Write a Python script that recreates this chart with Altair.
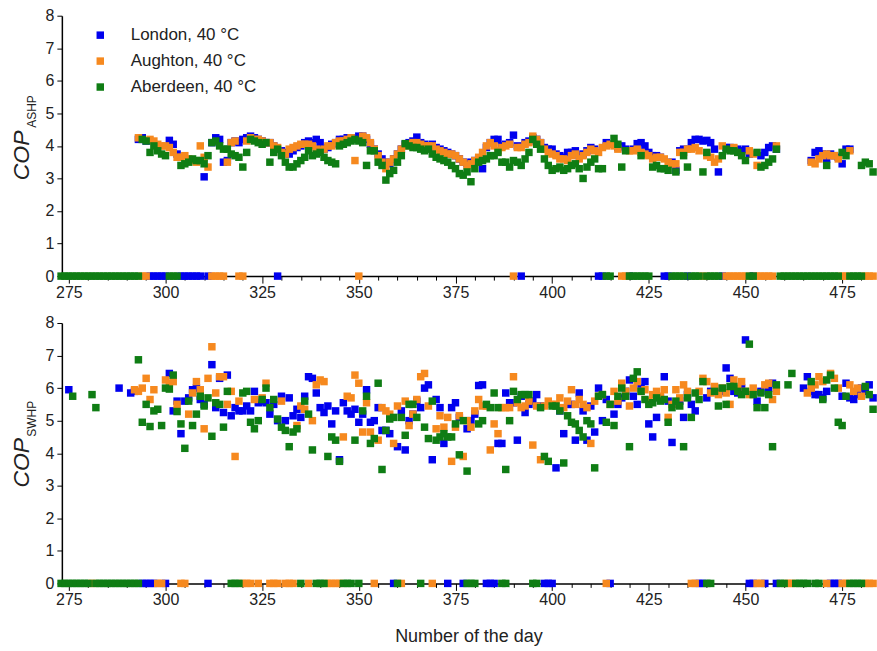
import altair as alt
import pandas as pd

CITIES = ["London, 40 °C", "Aughton, 40 °C", "Aberdeen, 40 °C"]
COLORS = ["#0000ee", "#f6891f", "#0f7d14"]
X_DOMAIN = [273.2, 483.5]
X_TICKS = [275, 280, 285, 290, 295, 300, 305, 310, 315, 320, 325, 330, 335, 340, 345,
           350, 355, 360, 365, 370, 375, 380, 385, 390, 395, 400, 405, 410, 415, 420,
           425, 430, 435, 440, 445, 450, 455, 460, 465, 470, 475, 480]
Y_TICKS = [0, 1, 2, 3, 4, 5, 6, 7, 8]
FONT = "Liberation Sans"

# ---------------- COP ASHP (top panel): (day, COP) ----------------
ashp_london = [
    (293, 4.2), (294, 4.25), (295, 4.15), (301, 4.17), (302, 4.05), (303, 3.75), (310, 3.05),
    (312, 4.1), (313, 4.25), (314, 4.2), (315, 3.5), (316, 3.55), (317, 4.1), (318, 4.15),
    (319, 4.1), (320, 4.2), (321, 4.25), (322, 4.3), (323, 4.25), (324, 4.2), (325, 4.15),
    (326, 4.1), (327, 4.1), (328, 4.0), (330, 3.85), (331, 3.8), (332, 3.75), (333, 3.85),
    (334, 3.95), (335, 4.0), (336, 4.1), (337, 4.15), (338, 4.1), (339, 4.2), (340, 4.1),
    (341, 3.9), (342, 3.95), (343, 4.05), (344, 4.1), (345, 4.2), (346, 4.2), (347, 4.25),
    (348, 4.25), (349, 4.2), (350, 4.3), (351, 4.3), (352, 4.2), (353, 4.05), (354, 3.9),
    (355, 3.75), (356, 3.6), (357, 3.5), (358, 3.45), (359, 3.6), (360, 3.75), (361, 3.9),
    (362, 4.05), (363, 4.1), (364, 4.15), (365, 4.27), (366, 4.1), (367, 4.05), (368, 4.0),
    (369, 4.05), (370, 3.95), (371, 3.9), (372, 3.85), (373, 3.8), (374, 3.75), (375, 3.7),
    (376, 3.6), (377, 3.5), (378, 3.45), (379, 3.5), (380, 3.55), (381, 3.6), (382, 3.3),
    (383, 3.95), (384, 4.1), (385, 4.2), (386, 4.2), (387, 4.0), (388, 4.05), (389, 4.1),
    (390, 4.33), (391, 4.0), (393, 4.1), (394, 4.15), (395, 4.25), (396, 4.2), (397, 4.1),
    (398, 3.95), (399, 3.9), (400, 3.9), (401, 3.75), (402, 3.7), (403, 3.65), (404, 3.8),
    (405, 3.8), (406, 3.85), (407, 3.7), (408, 3.75), (409, 3.85), (410, 3.95), (411, 3.9),
    (414, 4.1), (415, 4.05), (416, 4.05), (417, 3.95), (418, 4.0), (419, 3.9), (421, 3.9),
    (422, 4.07), (423, 4.1), (424, 4.0), (425, 3.8), (426, 3.7), (427, 3.7), (428, 3.65),
    (431, 3.5), (432, 3.25), (433, 3.85), (434, 3.9), (436, 4.1), (437, 4.2), (438, 4.2),
    (439, 4.15), (440, 4.17), (441, 4.1), (442, 3.9), (443, 3.2), (445, 3.95), (446, 3.95),
    (448, 3.9), (449, 3.85), (450, 3.9), (451, 3.75), (454, 3.7), (455, 3.8), (456, 3.95),
    (457, 4.0), (458, 3.9), (467, 3.55), (468, 3.8), (469, 3.85), (470, 3.75), (471, 3.6),
    (472, 3.75), (473, 3.7), (474, 3.65), (475, 3.45), (476, 3.9), (477, 3.9),
]
ashp_aughton = [
    (293, 4.25), (296, 4.2), (297, 4.15), (298, 4.05), (299, 4.0), (300, 4.0), (301, 3.95),
    (302, 3.8), (303, 3.65), (304, 3.65), (305, 3.7), (306, 3.6), (307, 3.55), (308, 3.5),
    (309, 4.0), (310, 3.65), (311, 3.35), (316, 3.5), (317, 4.1), (318, 4.15), (321, 4.15),
    (322, 4.25), (323, 4.2), (324, 4.2), (325, 4.15), (326, 4.1), (327, 4.1), (328, 4.0),
    (329, 3.95), (330, 3.8), (331, 3.75), (332, 3.9), (333, 3.95), (334, 4.0), (335, 4.05),
    (336, 4.05), (337, 4.05), (338, 4.0), (339, 3.9), (340, 3.85), (341, 3.9), (342, 4.0),
    (343, 4.0), (344, 4.1), (345, 4.15), (346, 4.15), (347, 4.2), (348, 4.25), (349, 3.55),
    (351, 4.3), (352, 4.25), (353, 4.1), (354, 3.9), (355, 3.7), (356, 3.5), (357, 3.3),
    (358, 3.5), (359, 3.6), (360, 3.75), (361, 3.9), (362, 4.0), (363, 4.05), (364, 4.1),
    (365, 4.1), (366, 4.05), (367, 4.0), (368, 4.0), (369, 4.0), (370, 3.9), (371, 3.85),
    (372, 3.8), (373, 3.75), (374, 3.75), (375, 3.7), (376, 3.6), (377, 3.5), (378, 3.4),
    (379, 3.45), (380, 3.55), (381, 3.65), (382, 3.8), (383, 4.0), (384, 4.1), (385, 4.0),
    (386, 3.85), (387, 3.95), (388, 4.0), (389, 4.05), (391, 3.95), (392, 3.95), (393, 4.05),
    (394, 4.1), (395, 4.3), (396, 4.2), (397, 4.1), (398, 3.9), (399, 3.8), (400, 3.75),
    (401, 3.7), (402, 3.6), (403, 3.6), (404, 3.55), (405, 3.7), (406, 3.75), (407, 3.6),
    (408, 3.7), (409, 3.8), (410, 3.9), (411, 3.85), (412, 3.8), (413, 3.95), (414, 4.0),
    (415, 4.05), (416, 4.0), (417, 3.9), (420, 3.85), (421, 3.85), (422, 3.9), (423, 3.8),
    (424, 3.75), (425, 3.7), (426, 3.6), (427, 3.65), (428, 3.65), (429, 3.6), (430, 3.5),
    (431, 3.45), (432, 3.45), (433, 3.8), (434, 3.8), (435, 3.9), (436, 3.9), (437, 3.95),
    (438, 3.85), (440, 3.7), (441, 3.65), (442, 3.5), (443, 3.6), (444, 4.0), (447, 3.95),
    (451, 3.85), (452, 3.75), (453, 3.4), (458, 4.0), (467, 3.5), (468, 3.45), (469, 3.6),
    (470, 3.7), (471, 3.75), (472, 3.7), (473, 3.7), (474, 3.6), (477, 3.85),
]
ashp_aberdeen = [
    (294, 4.2), (295, 4.15), (296, 3.8), (297, 4.0), (298, 3.85), (299, 3.75), (300, 3.7),
    (304, 3.4), (305, 3.45), (306, 3.5), (307, 3.6), (308, 3.55), (309, 3.55), (310, 3.45),
    (311, 3.7), (312, 4.1), (313, 4.15), (314, 4.0), (315, 3.9), (316, 3.9), (317, 3.75),
    (318, 3.7), (319, 3.65), (320, 3.35), (321, 3.8), (322, 4.2), (323, 4.15), (324, 4.1),
    (325, 4.05), (326, 4.1), (327, 3.5), (328, 3.8), (329, 3.9), (330, 3.7), (331, 3.5),
    (332, 3.35), (333, 3.35), (334, 3.45), (335, 3.55), (336, 3.65), (337, 3.85), (338, 3.7),
    (339, 3.75), (340, 3.8), (341, 3.65), (342, 3.55), (343, 3.5), (344, 3.45), (345, 4.0),
    (346, 4.05), (347, 4.1), (348, 4.15), (349, 4.2), (350, 4.15), (351, 4.1), (352, 3.4),
    (353, 3.85), (354, 3.85), (355, 3.5), (356, 3.4), (357, 2.95), (358, 3.15), (359, 3.25),
    (360, 3.5), (361, 3.7), (362, 4.07), (363, 4.0), (364, 3.95), (365, 3.95), (366, 3.9),
    (367, 3.85), (368, 3.9), (369, 3.75), (370, 3.65), (371, 3.6), (372, 3.55), (373, 3.5),
    (374, 3.4), (375, 3.3), (376, 3.15), (377, 3.1), (378, 3.2), (379, 2.9), (380, 3.3),
    (381, 3.5), (382, 3.55), (383, 3.6), (384, 3.7), (385, 3.7), (386, 3.8), (387, 3.5),
    (388, 3.5), (389, 3.35), (390, 3.55), (391, 3.5), (392, 3.4), (393, 3.6), (394, 3.8),
    (395, 4.2), (396, 4.05), (397, 3.9), (398, 3.6), (399, 3.4), (400, 3.25), (401, 3.3),
    (402, 3.35), (403, 3.25), (404, 3.3), (405, 3.4), (406, 3.45), (407, 3.3), (408, 3.0),
    (409, 3.35), (410, 3.5), (411, 3.6), (412, 3.3), (413, 3.3), (416, 4.23), (417, 4.05),
    (418, 3.35), (419, 3.85), (423, 3.7), (426, 3.35), (427, 3.4), (428, 3.3), (429, 3.3),
    (430, 3.25), (432, 3.2), (434, 3.7), (435, 3.35), (439, 3.2), (440, 3.8), (444, 3.7),
    (445, 3.9), (446, 3.85), (447, 3.85), (448, 3.8), (449, 3.7), (450, 3.55), (453, 3.8),
    (454, 3.35), (455, 3.4), (456, 3.5), (457, 3.6), (458, 3.9), (471, 3.4), (475, 3.8),
    (476, 3.7), (480, 3.4), (481, 3.5), (482, 3.45), (483, 3.2),
]
# days with COP = 0 (top panel)
ashp_zero_london = [296, 297, 298, 299, 300, 304, 305, 306, 307, 308, 309, 311, 329, 392,
                    412, 413, 420, 429, 430, 435, 444, 452]
ashp_zero_aughton = [294, 295, 312, 313, 314, 315, 319, 320, 350, 390, 418, 419, 439, 445,
                     446, 447, 448, 449, 450, 453, 454, 455, 456, 457, 475, 476, 481, 482, 483]
ashp_zero_aberdeen = [273, 274, 275, 276, 277, 278, 279, 280, 281, 282, 283, 284, 285, 286,
                      287, 288, 289, 290, 291, 292, 293, 301, 302, 303, 414, 415, 420, 421,
                      422, 423, 424, 425, 431, 432, 433, 434, 436, 437, 438, 440, 441, 442,
                      443, 451, 452, 459, 460, 461, 462, 463, 464, 465, 466, 467, 468, 469,
                      470, 471, 472, 473, 474, 477, 478, 479, 480]

# ---------------- COP SWHP (bottom panel): (day, COP) ----------------
swhp_london = [
    (275, 5.95), (288, 6.0), (291, 5.85), (292, 5.9), (301, 6.45), (302, 5.3), (303, 5.6),
    (304, 4.6), (305, 5.6), (306, 5.7), (307, 5.95), (308, 6.0), (309, 5.65), (310, 5.5),
    (312, 6.72), (313, 5.4), (314, 6.3), (315, 5.25), (316, 6.4), (317, 5.15), (318, 5.4),
    (319, 5.3), (320, 5.3), (321, 5.45), (322, 5.3), (323, 5.9), (324, 5.55), (325, 5.6),
    (326, 5.55), (327, 5.2), (328, 5.5), (329, 5.0), (330, 5.75), (331, 5.0), (332, 5.7),
    (333, 5.15), (334, 5.35), (335, 5.1), (336, 5.75), (337, 6.35), (338, 6.3), (339, 5.85),
    (340, 5.4), (341, 5.25), (342, 5.45), (343, 4.9), (344, 5.3), (345, 3.8), (346, 5.55),
    (347, 5.3), (348, 5.2), (349, 5.35), (350, 4.95), (351, 5.2), (352, 5.95), (353, 4.95),
    (354, 5.0), (355, 5.4), (356, 4.7), (357, 4.7), (358, 4.6), (360, 4.2), (361, 5.3),
    (362, 4.1), (363, 5.0), (364, 5.2), (365, 5.6), (366, 5.4), (367, 6.0), (368, 6.1),
    (369, 3.8), (370, 5.65), (371, 5.4), (372, 4.3), (374, 5.4), (375, 5.55), (376, 5.1),
    (378, 4.75), (379, 5.0), (380, 5.2), (381, 6.08), (382, 6.1), (386, 4.3), (387, 4.3),
    (388, 5.85), (389, 5.55), (390, 5.55), (391, 4.4), (392, 5.75), (393, 5.25), (394, 5.5),
    (395, 5.6), (396, 5.8), (397, 5.45), (401, 3.55), (402, 5.3), (403, 4.6), (404, 5.5),
    (405, 5.5), (406, 4.4), (407, 5.85), (408, 5.3), (409, 4.4), (410, 5.45), (411, 4.65),
    (412, 6.0), (413, 5.0), (414, 5.65), (416, 5.2), (417, 5.5), (418, 5.7), (419, 5.9),
    (420, 6.25), (421, 5.75), (422, 5.5), (423, 6.0), (424, 6.2), (425, 4.9), (426, 4.5),
    (427, 5.1), (428, 5.7), (429, 6.35), (430, 5.6), (431, 4.33), (432, 5.5), (433, 5.6),
    (434, 5.1), (435, 5.8), (436, 5.5), (437, 5.3), (440, 5.7), (441, 5.9), (442, 6.0),
    (443, 5.85), (444, 5.9), (445, 6.62), (446, 6.3), (447, 5.9), (448, 5.85), (449, 6.0),
    (450, 7.48), (453, 5.6), (454, 5.9), (456, 6.0), (457, 6.15), (465, 6.0), (466, 6.35),
    (467, 5.9), (468, 5.8), (469, 5.8), (470, 5.7), (471, 5.9), (475, 5.75), (476, 6.15),
    (477, 5.7), (478, 5.65), (479, 5.8), (480, 6.0), (481, 5.9), (482, 6.1), (483, 5.7),
]
swhp_aughton = [
    (292, 5.95), (293, 5.9), (294, 6.0), (295, 6.3), (296, 5.65), (297, 5.95), (300, 6.25),
    (301, 6.15), (302, 6.2), (303, 5.5), (306, 5.2), (307, 5.85), (308, 6.2), (309, 5.95),
    (310, 4.75), (311, 6.3), (312, 7.27), (313, 5.85), (314, 6.35), (315, 6.35), (316, 5.5),
    (317, 5.9), (318, 3.9), (319, 5.6), (323, 5.65), (325, 5.7), (326, 6.15), (330, 5.6),
    (334, 4.85), (335, 5.45), (336, 5.35), (338, 5.0), (339, 6.1), (340, 6.25), (341, 6.2),
    (346, 4.5), (347, 5.75), (348, 5.7), (349, 6.4), (350, 6.15), (351, 4.65), (352, 5.55),
    (353, 4.65), (355, 4.4), (356, 5.4), (357, 5.3), (358, 5.2), (359, 4.3), (360, 5.45),
    (362, 5.6), (363, 4.85), (364, 5.2), (365, 5.65), (366, 6.35), (367, 6.45), (368, 5.45),
    (370, 4.75), (371, 5.15), (372, 4.8), (373, 5.1), (374, 3.75), (375, 4.8), (376, 5.15),
    (377, 3.9), (378, 5.0), (379, 4.8), (380, 5.3), (381, 5.65), (382, 5.45), (383, 5.45),
    (384, 4.1), (385, 4.9), (386, 4.6), (387, 5.4), (388, 5.4), (389, 5.4), (390, 6.35),
    (391, 5.55), (392, 5.4), (393, 5.45), (394, 5.6), (395, 4.25), (396, 5.45), (397, 3.8),
    (398, 5.45), (399, 5.6), (400, 5.5), (401, 5.5), (402, 5.7), (403, 5.4), (404, 5.6),
    (405, 5.95), (406, 5.5), (407, 5.65), (408, 5.5), (409, 5.4), (410, 4.3), (411, 5.6),
    (412, 5.75), (413, 5.8), (415, 5.5), (416, 5.9), (417, 5.6), (418, 6.15), (419, 5.9),
    (420, 5.45), (421, 6.0), (422, 6.2), (423, 5.9), (424, 5.95), (425, 5.6), (426, 5.8),
    (427, 5.9), (428, 5.75), (429, 5.95), (430, 5.1), (431, 5.5), (432, 5.95), (433, 5.7),
    (434, 6.1), (435, 5.9), (438, 5.9), (439, 6.3), (440, 6.2), (441, 5.85), (442, 6.05),
    (443, 5.8), (444, 6.0), (445, 5.85), (446, 5.5), (447, 6.25), (448, 6.0), (449, 6.2),
    (450, 5.9), (451, 5.8), (452, 6.0), (455, 6.1), (456, 6.15), (457, 5.65), (458, 5.9),
    (466, 5.85), (467, 6.0), (468, 6.1), (469, 6.35), (470, 6.2), (472, 6.45), (473, 6.3),
    (474, 6.0), (477, 6.1), (478, 5.9), (479, 6.0), (480, 5.75),
]
swhp_aberdeen = [
    (276, 5.75), (281, 5.8), (282, 5.4), (293, 6.87), (294, 4.95), (295, 5.5), (296, 4.82),
    (297, 5.3), (298, 5.35), (299, 4.85), (300, 6.0), (301, 5.97), (302, 6.4), (303, 5.28),
    (304, 4.9), (305, 4.15), (306, 5.6), (307, 4.85), (308, 5.2), (309, 5.75), (310, 5.45),
    (311, 5.7), (312, 4.52), (313, 5.55), (314, 5.5), (315, 4.8), (316, 5.9), (320, 5.85),
    (321, 5.9), (322, 4.95), (323, 4.75), (324, 5.0), (325, 5.65), (326, 6.0), (327, 5.4),
    (328, 5.65), (329, 5.05), (330, 4.8), (331, 4.7), (332, 4.2), (333, 4.65), (334, 4.75),
    (336, 5.6), (337, 5.2), (338, 4.1), (342, 3.9), (343, 4.5), (344, 4.4), (345, 3.75),
    (349, 4.4), (351, 5.3), (352, 5.75), (353, 4.3), (354, 4.45), (355, 6.15), (356, 3.5),
    (357, 4.7), (358, 5.05), (359, 5.1), (361, 5.1), (362, 4.55), (363, 5.5), (364, 5.5),
    (365, 5.1), (367, 4.8), (368, 4.45), (369, 5.6), (370, 4.4), (371, 4.5), (372, 4.6),
    (373, 4.5), (374, 4.5), (375, 4.9), (376, 3.95), (377, 5.0), (378, 3.45), (381, 4.9),
    (382, 5.0), (383, 5.5), (384, 5.4), (385, 5.85), (386, 5.4), (388, 3.5), (389, 5.0),
    (390, 5.9), (391, 5.65), (392, 5.8), (393, 5.8), (394, 5.8), (397, 5.4), (398, 3.9),
    (399, 3.75), (400, 5.45), (401, 5.45), (402, 5.3), (403, 3.7), (404, 5.15), (405, 4.95),
    (406, 4.9), (407, 4.7), (408, 4.5), (409, 5.0), (410, 4.9), (411, 3.55), (412, 5.75),
    (413, 5.8), (414, 4.95), (415, 5.5), (416, 4.85), (417, 5.75), (418, 6.0), (419, 5.75),
    (420, 4.2), (421, 6.3), (422, 6.5), (423, 5.9), (424, 5.65), (425, 5.5), (426, 5.55),
    (427, 5.7), (428, 5.6), (429, 5.65), (430, 4.95), (431, 5.4), (432, 5.6), (433, 5.45),
    (434, 4.2), (435, 5.7), (436, 5.1), (437, 5.85), (438, 5.65), (439, 6.2), (442, 5.9),
    (443, 5.45), (444, 6.0), (445, 5.5), (446, 6.05), (447, 6.05), (448, 5.9), (449, 5.8),
    (450, 5.9), (451, 7.35), (452, 5.8), (453, 5.4), (454, 5.85), (455, 5.4), (456, 5.8),
    (457, 4.2), (458, 6.1), (461, 6.1), (462, 6.45), (467, 6.2), (470, 5.65), (471, 6.25),
    (472, 6.4), (473, 6.0), (474, 4.95), (475, 4.85), (476, 5.75), (481, 6.05), (482, 5.8),
    (483, 5.35),
]
# days with COP = 0 (bottom panel)
swhp_zero_london = [294, 295, 296, 297, 300, 311, 359, 373, 377, 383, 384, 385, 398, 399,
                    400, 415, 438, 439, 451, 452, 455, 458, 472, 473, 474]
swhp_zero_aughton = [281, 298, 299, 304, 305, 320, 321, 322, 324, 327, 328, 329, 331, 332,
                     333, 337, 342, 343, 344, 345, 354, 361, 369, 414, 436, 437, 453, 454,
                     461, 462, 471, 475, 476, 481, 482, 483]
swhp_zero_aberdeen = [273, 274, 275, 276, 277, 278, 279, 280, 282, 283, 284, 285, 286, 287,
                      288, 289, 290, 291, 292, 293, 317, 318, 319, 335, 339, 340, 341, 346,
                      347, 348, 350, 360, 366, 378, 379, 380, 387, 388, 395, 396, 440, 441,
                      459, 460, 463, 464, 465, 466, 468, 469, 477, 478, 479, 480]


def build_frame(points, zeros):
    rows = []
    for i, city in enumerate(CITIES):
        for d in zeros[i]:
            rows.append({"city": city, "k": i, "day": d, "cop": 0.0})
        for d, v in points[i]:
            rows.append({"city": city, "k": i, "day": d, "cop": v})
    df = pd.DataFrame(rows)
    return df.sort_values("k", kind="stable").reset_index(drop=True)


top_df = build_frame([ashp_london, ashp_aughton, ashp_aberdeen],
                     [ashp_zero_london, ashp_zero_aughton, ashp_zero_aberdeen])
bot_df = build_frame([swhp_london, swhp_aughton, swhp_aberdeen],
                     [swhp_zero_london, swhp_zero_aughton, swhp_zero_aberdeen])

W, H = 815, 261

legend = alt.Legend(
    title=None, orient="none", legendX=30, legendY=11, symbolType="square",
    symbolSize=56, symbolStrokeWidth=0, labelFontSize=17, labelFont=FONT,
    labelColor="#222222", rowPadding=8, labelOffset=22, padding=0,
)


def panel(df, sub, xtitle, anchor):
    x_axis = alt.Axis(
        values=X_TICKS, format="d", title=xtitle,
        labelExpr="datum.value % 25 === 0 ? datum.label : ''",
        tickSize={"condition": {"test": "datum.value % 25 === 0", "value": 7}, "value": 4},
        labelOverlap=False, labelFlush=False, labelPadding=1,
        titleFontSize=18, titleFont=FONT, titleFontWeight="normal", titleColor="#222222",
        titlePadding=20,
    )
    y_axis = alt.Axis(values=Y_TICKS, title=None, tickSize=5, labelPadding=3)
    pts = alt.Chart(df).mark_square(size=56, opacity=1, clip=False).encode(
        x=alt.X("day:Q", scale=alt.Scale(domain=X_DOMAIN, nice=False, zero=False), axis=x_axis),
        y=alt.Y("cop:Q", scale=alt.Scale(domain=[0, 8], nice=False), axis=y_axis),
        color=alt.Color("city:N", scale=alt.Scale(domain=CITIES, range=COLORS), legend=legend),
    )
    main_t = alt.Chart(pd.DataFrame({"t": ["COP"]})).mark_text(
        angle=270, fontStyle="italic", fontSize=23, font=FONT, color="#222222",
        align="center", baseline="middle",
    ).encode(text="t:N", x=alt.value(-40), y=alt.value(140))
    sub_t = alt.Chart(pd.DataFrame({"t": [sub]})).mark_text(
        angle=270, fontSize=12, font=FONT, color="#222222",
        align="center", baseline="middle",
    ).encode(text="t:N", x=alt.value(-30), y=alt.value(96))
    layers = [pts, main_t, sub_t]
    if anchor:
        # invisible zero-size rule that fixes the page's top-left corner
        corner = alt.Chart(pd.DataFrame({"t": [0]})).mark_rule(
            opacity=0, strokeWidth=0
        ).encode(x=alt.value(-62), x2=alt.value(-62), y=alt.value(-15), y2=alt.value(-15))
        layers.append(corner)
    return alt.layer(*layers).properties(width=W, height=H)


top = panel(top_df, "ASHP", None, True)
bottom = panel(bot_df, "SWHP", "Number of the day", False)

chart = alt.vconcat(top, bottom, spacing=47, bounds="flush").properties(
    padding=0,
).configure_view(stroke=None).configure_axis(
    domainColor="#000000", domainWidth=1.5, tickColor="#000000", tickWidth=1,
    labelFont=FONT, labelFontSize=16, labelColor="#222222", grid=False,
)

chart.save("out.html", embed_options={"renderer": "svg", "actions": False})
